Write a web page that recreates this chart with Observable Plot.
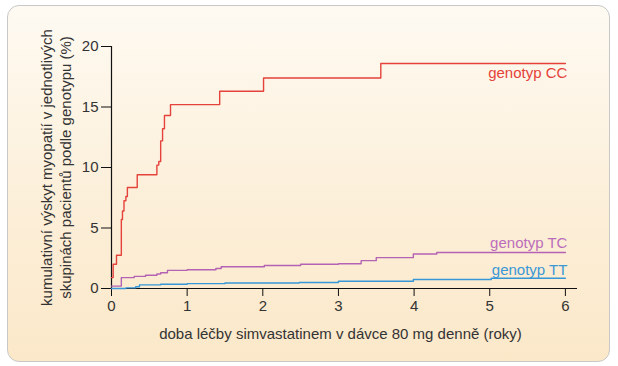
<!DOCTYPE html>
<html>
<head>
<meta charset="utf-8">
<script src="https://cdn.jsdelivr.net/npm/d3@7"></script>
<script src="https://cdn.jsdelivr.net/npm/@observablehq/plot@0.6"></script>
<style>
  html, body { margin: 0; padding: 0; background: #fff; }
  #wrap { position: relative; width: 618px; height: 366px; }
  #frame {
    position: absolute; left: 7px; top: 5px; width: 601px; height: 355px;
    border: 1.5px solid #c8c8c8; border-radius: 12px;
    background: linear-gradient(to bottom, #fefaf2 0%, #fcefd9 55%, #fbe8c9 100%);
  }
  #chart { position: absolute; left: 0; top: 0; }
</style>
</head>
<body>
<div id="wrap"><div id="frame"></div><div id="chart"></div></div>
<script>
// Data (time in years, cumulative incidence in %)
const ccTime  = [0, 0.022, 0.066, 0.13, 0.145, 0.165, 0.19, 0.21, 0.34, 0.6, 0.625, 0.65, 0.675, 0.7, 0.78, 1.43, 2.01, 3.56, 6];
const ccValue = [0.9, 2.0, 2.75, 5.7, 6.4, 7.25, 7.6, 8.35, 9.4, 10.2, 10.5, 12.2, 13.2, 14.3, 15.2, 16.3, 17.4, 18.6, 18.6];

const tcTime  = [0, 0.13, 0.3, 0.45, 0.6, 0.65, 0.74, 1.0, 1.38, 1.45, 2.02, 2.5, 3.0, 3.3, 3.5, 3.99, 4.3, 6];
const tcValue = [0.2, 0.9, 1.0, 1.1, 1.2, 1.3, 1.5, 1.55, 1.65, 1.8, 1.9, 2.0, 2.05, 2.3, 2.55, 2.85, 2.97, 2.97];

const ttTime  = [0, 0.19, 0.32, 0.37, 0.65, 1.0, 1.5, 2.48, 3.0, 3.99, 5.02, 6];
const ttValue = [0, 0.05, 0.15, 0.3, 0.35, 0.4, 0.45, 0.5, 0.6, 0.75, 0.85, 0.85];

const seriesNames  = ["genotyp CC", "genotyp TC", "genotyp TT"];
const seriesColors = ["#e5423b", "#b463b4", "#3596d8"];
const labelColors  = ["#e5423b", "#bb6dbb", "#3a98d6"];
const labelOffsets = [10, -9, -8];

const xTicks = [0, 1, 2, 3, 4, 5, 6];
const yTicks = [0, 5, 10, 15, 20];
const xLabel = "doba léčby simvastatinem v dávce 80 mg denně (roky)";
const yLabel = "kumulativní výskyt myopatií v jednotlivých\nskupinách pacientů podle genotypu (%)";

const toRows = (name, t, v) => t.map((d, i) => ({series: name, t: d, v: v[i]}));
const rows = [
  ...toRows(seriesNames[0], ccTime, ccValue),
  ...toRows(seriesNames[1], tcTime, tcValue),
  ...toRows(seriesNames[2], ttTime, ttValue)
];
const lastRows = seriesNames.map((s, i) => ({...rows.filter(r => r.series === s).at(-1), dy: labelOffsets[i], color: labelColors[i]}));

const font = "'Liberation Sans', Arial, Helvetica, sans-serif";
const fs = 15;

const chart = Plot.plot({
  width: 618,
  height: 366,
  marginLeft: 111,
  marginRight: 41,
  marginTop: 46,
  marginBottom: 78,
  style: {background: "transparent", fontFamily: font, fontSize: fs + "px", color: "#333", overflow: "visible"},
  x: {domain: [0, 6.16]},
  y: {domain: [0, 20]},
  color: {domain: seriesNames, range: seriesColors},
  marks: [
    Plot.axisX({ticks: xTicks, tickFormat: d3.format("d"), tickSize: 8, tickPadding: 4, label: null, stroke: "#111", fill: "#333", fontSize: fs}),
    Plot.axisY({ticks: yTicks, tickFormat: d3.format("d"), tickSize: 10, tickPadding: 3, label: null, stroke: "#111", fill: "#333", fontSize: fs}),
    Plot.ruleY([0], {stroke: "#111", strokeWidth: 1.2}),
    Plot.ruleX([0], {y1: 0, y2: 20, stroke: "#111", strokeWidth: 1.2}),
    Plot.line(rows, {x: "t", y: "v", z: "series", stroke: "series", curve: "step-after", strokeWidth: 1.4}),
    ...lastRows.map(r => Plot.text([r], {x: "t", y: "v", text: "series", fill: r.color, textAnchor: "end", dx: 2, dy: r.dy, fontSize: fs})),
    Plot.text([xLabel], {frameAnchor: "bottom", lineAnchor: "middle", dy: 46, dx: -4, fill: "#333", fontSize: fs}),
    Plot.text([yLabel], {frameAnchor: "left", rotate: -90, textAnchor: "middle", lineAnchor: "middle", dx: -56, lineHeight: 1.3, fill: "#333", fontSize: fs})
  ]
});
document.getElementById("chart").appendChild(chart);
</script>
</body>
</html>
